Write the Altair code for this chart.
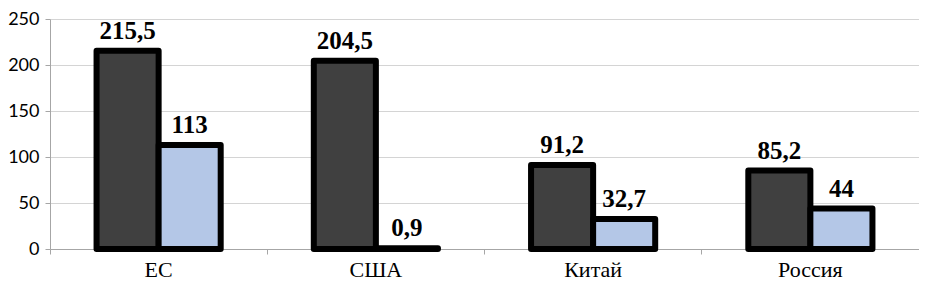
import altair as alt
import pandas as pd

categories = ["ЕС", "США", "Китай", "Россия"]
series_names = ["Серия 1", "Серия 2"]
series1 = [215.5, 204.5, 91.2, 85.2]
series2 = [113, 0.9, 32.7, 44]
y_ticks = [0, 50, 100, 150, 200, 250]

SERIF = "'Times New Roman', 'Liberation Serif', serif"

rows = []
for c, a, b in zip(categories, series1, series2):
    for s, v in zip(series_names, (a, b)):
        rows.append({"cat": c, "series": s, "value": v,
                     "label": f"{v:g}".replace(".", ",")})
df = pd.DataFrame(rows)

x_enc = alt.X("cat:N", sort=categories,
              scale=alt.Scale(paddingInner=0, paddingOuter=0),
              axis=alt.Axis(title=None, labelAngle=0, labelFont=SERIF,
                            labelFontSize=22, labelColor="#000", labelPadding=5,
                            domainColor="#a6a6a6", tickColor="#a6a6a6", tickSize=5,
                            bandPosition=0, grid=False))
xoff = alt.XOffset("series:N", sort=series_names,
                   scale=alt.Scale(paddingInner=0, paddingOuter=0.75))
y_enc = alt.Y("value:Q", scale=alt.Scale(domain=[0, 250], nice=False),
              axis=alt.Axis(title=None, values=y_ticks, labelFont="Lato",
                            labelFontSize=18, labelColor="#000", labelPadding=6,
                            domainColor="#a6a6a6", tickColor="#a6a6a6", tickSize=5,
                            gridColor="#d4d4d4", gridWidth=1))

bars = alt.Chart(df).mark_bar(stroke="#000", strokeWidth=6, strokeJoin="round").encode(
    x=x_enc, xOffset=xoff, y=y_enc,
    color=alt.Color("series:N", sort=series_names,
                    scale=alt.Scale(domain=series_names, range=["#404040", "#b4c7e7"]),
                    legend=None),
)

texts = alt.Chart(df).mark_text(font=SERIF, fontSize=25, fontWeight="bold",
                                baseline="alphabetic", dy=-12, color="#000").encode(
    x=alt.X("cat:N", sort=categories), xOffset=xoff,
    y=alt.Y("value:Q"), text="label:N",
)

chart = (bars + texts).properties(
    width=869, height=230,
    autosize=alt.AutoSizeParams(type="none"),
    padding={"left": 42, "top": 11, "right": 0, "bottom": 31},
).configure_view(stroke=None).configure_axis(domainWidth=1)

chart.save("out.html", embed_options={"renderer": "svg", "actions": False})
